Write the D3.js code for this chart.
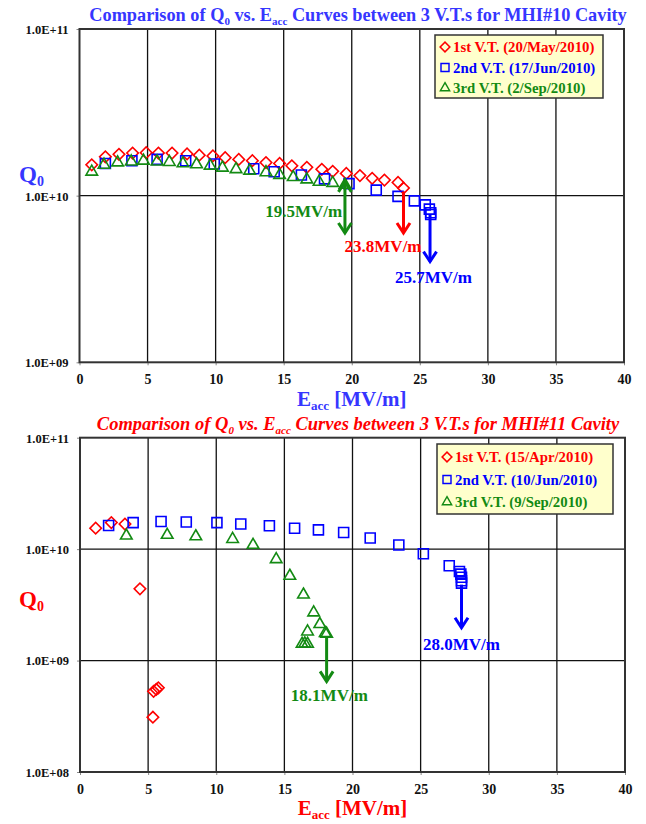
<!DOCTYPE html>
<html>
<head>
<meta charset="utf-8">
<script src="https://cdn.jsdelivr.net/npm/d3@7"></script>
<style>
  body { margin: 0; background: #fff; }
  svg { display: block; }
  text { font-family: "Liberation Serif", "Times New Roman", serif; font-weight: bold; }
</style>
</head>
<body>
<svg id="chart" width="646" height="824"></svg>
<script>
// ---- data ----
const eTicks = [0, 5, 10, 15, 20, 25, 30, 35, 40];

// MHI#10
const mhi10Labels = ['1st V.T. (20/May/2010)', '2nd V.T. (17/Jun/2010)', '3rd V.T. (2/Sep/2010)'];
const mhi10RedE = [0.9, 1.9, 2.9, 3.9, 4.9, 5.8, 6.8, 7.9, 8.8, 9.8, 10.7, 11.7, 12.7, 13.7, 14.7, 15.6, 16.7, 17.8, 18.6, 19.6, 20.6, 21.5, 22.4, 23.4, 23.8];
const mhi10RedQ = [1.53e10, 1.71e10, 1.77e10, 1.80e10, 1.81e10, 1.80e10, 1.80e10, 1.78e10, 1.75e10, 1.73e10, 1.69e10, 1.65e10, 1.62e10, 1.58e10, 1.56e10, 1.51e10, 1.48e10, 1.44e10, 1.40e10, 1.36e10, 1.32e10, 1.27e10, 1.24e10, 1.20e10, 1.11e10];
const mhi10BlueE = [1.9, 3.85, 5.7, 7.8, 9.9, 12.8, 14.3, 16.3, 18.0, 19.8, 21.8, 23.4, 24.6, 25.4, 25.7, 25.8, 25.8];
const mhi10BlueQ = [1.56e10, 1.62e10, 1.65e10, 1.62e10, 1.55e10, 1.45e10, 1.39e10, 1.33e10, 1.26e10, 1.18e10, 1.08e10, 9.9e9, 9.3e9, 8.8e9, 8.3e9, 7.9e9, 7.7e9];
const mhi10GreenE = [0.9, 1.8, 2.8, 3.8, 4.7, 5.7, 6.6, 7.6, 8.6, 9.6, 10.5, 11.5, 12.5, 13.7, 14.7, 15.7, 16.7, 17.6, 18.6, 19.5];
const mhi10GreenQ = [1.39e10, 1.53e10, 1.58e10, 1.60e10, 1.62e10, 1.60e10, 1.59e10, 1.56e10, 1.54e10, 1.51e10, 1.47e10, 1.44e10, 1.41e10, 1.38e10, 1.33e10, 1.29e10, 1.25e10, 1.21e10, 1.19e10, 1.16e10];
// arrows in data units (E, Q from -> to), labels in data units
const mhi10Arrows = [
  { color: 'green', e: 19.5, q0: 1.21e10, q1: 5.97e9, both: true },
  { color: 'red', e: 23.8, q0: 1.06e10, q1: 5.97e9, both: false },
  { color: 'blue', e: 25.75, q0: 7.66e9, q1: 4.02e9, both: false }
];
const mhi10Notes = [
  { color: 'green', text: '19.5MV/m', e: 19.3, q: 7.4e9, anchor: 'end' },
  { color: 'red', text: '23.8MV/m', e: 22.3, q: 4.6e9, anchor: 'middle' },
  { color: 'blue', text: '25.7MV/m', e: 26.0, q: 3.0e9, anchor: 'middle' }
];

// MHI#11
const mhi11Labels = ['1st V.T. (15/Apr/2010)', '2nd V.T. (10/Jun/2010)', '3rd V.T. (9/Sep/2010)'];
const mhi11RedE = [1.15, 2.3, 3.3, 4.4, 5.4, 5.6, 5.75, 5.35];
const mhi11RedQ = [1.54e10, 1.73e10, 1.68e10, 4.4e9, 5.3e8, 5.5e8, 5.7e8, 3.1e8];
const mhi11BlueE = [2.1, 3.9, 5.95, 7.8, 10.05, 11.8, 13.9, 15.75, 17.5, 19.35, 21.3, 23.4, 25.2, 27.1, 27.85, 27.95, 28.0, 28.0, 28.0];
const mhi11BlueQ = [1.63e10, 1.73e10, 1.77e10, 1.75e10, 1.73e10, 1.68e10, 1.62e10, 1.54e10, 1.49e10, 1.41e10, 1.26e10, 1.09e10, 9.1e9, 7.1e9, 6.3e9, 5.97e9, 5.6e9, 5.2e9, 4.95e9];
const mhi11GreenE = [3.4, 6.4, 8.5, 11.2, 12.7, 14.4, 15.4, 16.4, 17.15, 17.6, 16.7, 18.0, 18.1, 16.3, 16.5, 16.7];
const mhi11GreenQ = [1.32e10, 1.34e10, 1.30e10, 1.23e10, 1.09e10, 8.1e9, 5.75e9, 3.9e9, 2.7e9, 2.12e9, 1.82e9, 1.76e9, 1.74e9, 1.41e9, 1.42e9, 1.41e9];
const mhi11Arrows = [
  { color: 'green', e: 18.1, q0: 1.6e9, q1: 6.5e8, both: false },
  { color: 'blue', e: 28.0, q0: 4.8e9, q1: 1.97e9, both: false }
];
const mhi11Notes = [
  { color: 'green', text: '18.1MV/m', e: 18.3, q: 4.3e8, anchor: 'middle' },
  { color: 'blue', text: '28.0MV/m', e: 28.0, q: 1.25e9, anchor: 'middle' }
];

// ---- colours ----
const COLORS = { red: '#ff0000', blue: '#0000ff', green: '#138a13' };
const TITLE_BLUE = '#3636ff';

const svg = d3.select('#chart');

function marker(type) {
  if (type === 'red') return d3.symbol().type(d3.symbolSquare).size(66)();
  if (type === 'blue') return d3.symbol().type(d3.symbolSquare).size(100)();
  return d3.symbol().type(d3.symbolTriangle).size(58)();
}

function drawChart(cfg) {
  const g = svg.append('g');
  const x = d3.scaleLinear().domain([0, 40]).range([cfg.left, cfg.right]);
  const y = d3.scaleLog().domain([cfg.qMin, 1e11]).range([cfg.bottom, cfg.top]);
  const qTicks = y.ticks().filter(q => Number.isInteger(Math.log10(q)));

  // grid
  g.append('g')
    .selectAll('line')
    .data(eTicks.slice(1, -1))
    .join('line')
    .attr('x1', d => x(d)).attr('x2', d => x(d))
    .attr('y1', cfg.top).attr('y2', cfg.bottom)
    .attr('stroke', '#111').attr('stroke-width', 1.3);
  g.append('g')
    .selectAll('line')
    .data(qTicks.slice(1, -1))
    .join('line')
    .attr('x1', cfg.left).attr('x2', cfg.right)
    .attr('y1', d => y(d)).attr('y2', d => y(d))
    .attr('stroke', '#111').attr('stroke-width', 1.3);

  // axes (ticks and labels)
  const xAxis = g.append('g')
    .attr('transform', `translate(0,${cfg.bottom})`)
    .call(d3.axisBottom(x).tickValues(eTicks).tickSize(3).tickPadding(9).tickFormat(d3.format('d')));
  const yAxis = g.append('g')
    .attr('transform', `translate(${cfg.left},0)`)
    .call(d3.axisLeft(y).tickValues(qTicks).tickSize(3).tickPadding(8)
      .tickFormat(q => `1.0E+${String(Math.round(Math.log10(q))).padStart(2, '0')}`));
  [xAxis, yAxis].forEach(a => {
    a.select('.domain').remove();
    a.selectAll('line').attr('stroke', '#888');
    a.selectAll('text').attr('fill', '#111')
      .style('font-family', '"Liberation Serif", serif').style('font-weight', 'bold');
  });
  xAxis.selectAll('text').style('font-size', '14px');
  yAxis.selectAll('text').style('font-size', '12.5px').attr('dy', '0.35em');

  // frame
  g.append('rect')
    .attr('x', cfg.left).attr('y', cfg.top)
    .attr('width', cfg.right - cfg.left).attr('height', cfg.bottom - cfg.top)
    .attr('fill', 'none').attr('stroke', '#333').attr('stroke-width', 2);

  // series
  const series = [
    { c: 'red', e: cfg.redE, q: cfg.redQ, rot: 45 },
    { c: 'blue', e: cfg.blueE, q: cfg.blueQ, rot: 0 },
    { c: 'green', e: cfg.greenE, q: cfg.greenQ, rot: 0 }
  ];
  series.forEach(s => {
    g.append('g')
      .selectAll('path')
      .data(s.e.map((e, i) => [e, s.q[i]]))
      .join('path')
      .attr('d', marker(s.c))
      .attr('transform', d => `translate(${x(d[0])},${y(d[1])}) rotate(${s.rot})`)
      .attr('fill', 'none')
      .attr('stroke', COLORS[s.c])
      .attr('stroke-width', 1.6);
  });

  // arrows
  const head = (px, py, dir) => `M${px - 6.5},${py - 10 * dir}L${px},${py}L${px + 6.5},${py - 10 * dir}`;
  cfg.arrows.forEach(a => {
    const ax = x(a.e), y0 = y(a.q0), y1 = y(a.q1);
    g.append('line').attr('x1', ax).attr('x2', ax).attr('y1', y0).attr('y2', y1)
      .attr('stroke', COLORS[a.color]).attr('stroke-width', 3);
    g.append('path').attr('d', head(ax, y1, 1)).attr('fill', 'none')
      .attr('stroke', COLORS[a.color]).attr('stroke-width', 3);
    if (a.both) {
      g.append('path').attr('d', head(ax, y0, -1)).attr('fill', 'none')
        .attr('stroke', COLORS[a.color]).attr('stroke-width', 3);
    }
  });
  g.selectAll('text.note')
    .data(cfg.notes)
    .join('text')
    .attr('class', 'note')
    .attr('x', d => x(d.e)).attr('y', d => y(d.q))
    .attr('text-anchor', d => d.anchor)
    .attr('fill', d => COLORS[d.color])
    .style('font-size', '17px')
    .text(d => d.text);

  // legend
  const lg = g.append('g').attr('transform', `translate(${cfg.legend.x},${cfg.legend.y})`);
  lg.append('rect')
    .attr('width', cfg.legend.w).attr('height', cfg.legend.h)
    .attr('fill', '#ffffcc').attr('stroke', '#333').attr('stroke-width', 1.5);
  const items = lg.selectAll('g.item')
    .data(['red', 'blue', 'green'])
    .join('g')
    .attr('transform', (d, i) => `translate(10,${cfg.legend.row0 + i * cfg.legend.step})`);
  items.append('path')
    .attr('d', d => marker(d))
    .attr('transform', d => d === 'red' ? 'rotate(45) scale(0.85)' : 'scale(0.8)')
    .attr('fill', 'none').attr('stroke', d => COLORS[d]).attr('stroke-width', 1.8);
  items.append('text')
    .attr('x', 8).attr('dy', '0.35em')
    .attr('fill', d => COLORS[d])
    .style('font-size', '14.8px')
    .text((d, i) => cfg.legendLabels[i]);

  // titles
  const mid = (cfg.left + cfg.right) / 2;
  const title = g.append('text')
    .attr('x', cfg.titleX).attr('y', cfg.titleY)
    .attr('text-anchor', 'middle')
    .attr('fill', cfg.titleColor)
    .style('font-size', cfg.titleSize + 'px')
    .style('font-style', cfg.italic ? 'italic' : 'normal');
  title.append('tspan').text('Comparison of Q');
  title.append('tspan').attr('dy', 4).style('font-size', '11px').text('0');
  title.append('tspan').attr('dy', -4).text(' vs. E');
  title.append('tspan').attr('dy', 4).style('font-size', '11px').text('acc');
  title.append('tspan').attr('dy', -4).text(` Curves between 3 V.T.s for ${cfg.name} Cavity`);

  const yl = g.append('text')
    .attr('x', 19).attr('y', cfg.qLabelY)
    .attr('fill', cfg.labelColor)
    .style('font-size', '23px');
  yl.append('tspan').text('Q');
  yl.append('tspan').attr('dy', 4).style('font-size', '14px').text('0');

  const xl = g.append('text')
    .attr('x', mid).attr('y', cfg.eLabelY)
    .attr('text-anchor', 'middle')
    .attr('fill', cfg.labelColor)
    .style('font-size', '21px');
  xl.append('tspan').text('E');
  xl.append('tspan').attr('dy', 4).style('font-size', '13px').text('acc');
  xl.append('tspan').attr('dy', -4).text(' [MV/m]');
}

drawChart({
  name: 'MHI#10', left: 79.5, right: 624, top: 29, bottom: 362.3, qMin: 1e9,
  redE: mhi10RedE, redQ: mhi10RedQ, blueE: mhi10BlueE, blueQ: mhi10BlueQ,
  greenE: mhi10GreenE, greenQ: mhi10GreenQ,
  arrows: mhi10Arrows, notes: mhi10Notes, legendLabels: mhi10Labels,
  legend: { x: 435, y: 35, w: 168, h: 63, row0: 12, step: 20.5 },
  titleX: 358, titleY: 21, titleSize: 18.3, titleColor: TITLE_BLUE, italic: false,
  labelColor: TITLE_BLUE, qLabelY: 182, eLabelY: 406
});

drawChart({
  name: 'MHI#11', left: 80, right: 625, top: 437.7, bottom: 772, qMin: 1e8,
  redE: mhi11RedE, redQ: mhi11RedQ, blueE: mhi11BlueE, blueQ: mhi11BlueQ,
  greenE: mhi11GreenE, greenQ: mhi11GreenQ,
  arrows: mhi11Arrows, notes: mhi11Notes, legendLabels: mhi11Labels,
  legend: { x: 437, y: 444, w: 176, h: 70, row0: 13, step: 22.5 },
  titleX: 358, titleY: 430, titleSize: 18.5, titleColor: '#ff0000', italic: true,
  labelColor: '#ff0000', qLabelY: 607, eLabelY: 815
});
</script>
</body>
</html>
